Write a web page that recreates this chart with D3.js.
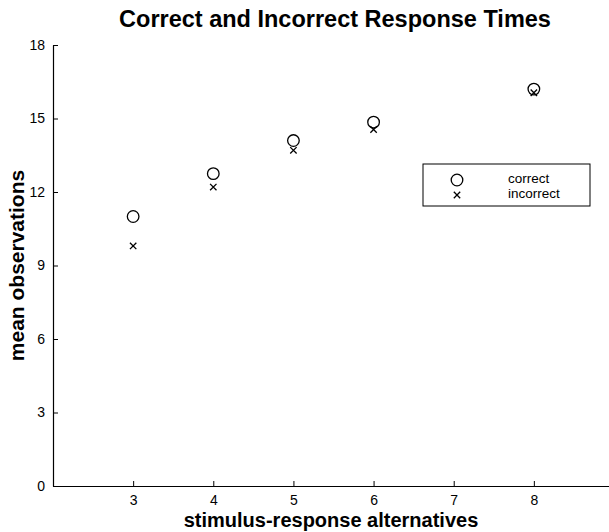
<!DOCTYPE html>
<html>
<head>
<meta charset="utf-8">
<script src="https://cdn.jsdelivr.net/npm/d3@7"></script>
<style>
  body { margin: 0; background: #fff; }
  text { font-family: Arial, "Liberation Sans", Helvetica, sans-serif; fill: #000; }
</style>
</head>
<body>
<div id="chart"></div>
<script>
// data
const alternatives = [3, 4, 5, 6, 8];
const correctTimes = [11.0, 12.75, 14.1, 14.85, 16.2];
const incorrectTimes = [9.8, 12.2, 13.7, 14.55, 16.05];
const xTicks = [3, 4, 5, 6, 7, 8];
const yTicks = [0, 3, 6, 9, 12, 15, 18];
const legendLabels = ["correct", "incorrect"];

const width = 609, height = 532;
const margin = {top: 45, right: -5, bottom: 46, left: 53};

let svg = d3.select("#chart")
  .append("svg")
    .attr("width", width)
    .attr("height", height)
    .attr("style", "background-color: #ffffff");

let x = d3.scaleLinear()
  .domain([2, 9])
  .range([margin.left, width - margin.right]);

let y = d3.scaleLinear()
  .domain([0, 18])
  .range([height - margin.bottom, margin.top]);

// x axis, ticks pointing into the plot
let xAxis = svg.append("g")
  .attr("transform", "translate(0," + y(0) + ")")
  .call(d3.axisBottom(x).tickValues(xTicks).tickFormat(d3.format("d"))
    .tickSizeInner(-5).tickSizeOuter(0).tickPadding(9));

// y axis
let yAxis = svg.append("g")
  .attr("transform", "translate(" + x(2) + ",0)")
  .call(d3.axisLeft(y).tickValues(yTicks).tickFormat(d3.format("d"))
    .tickSizeInner(-5).tickSizeOuter(0).tickPadding(8));

svg.selectAll(".domain").attr("stroke", "#000").attr("stroke-width", 1.2);
svg.selectAll(".tick line").attr("stroke", "#000");
svg.selectAll(".tick text")
  .attr("font-size", "14px")
  .attr("font-family", "Arial, 'Liberation Sans', sans-serif");

// title + axis labels
svg.append("text")
  .text("Correct and Incorrect Response Times")
  .attr("x", 335)
  .attr("y", 27)
  .attr("font-size", "23.5px")
  .attr("font-weight", "bold")
  .attr("text-anchor", "middle");

svg.append("text")
  .text("stimulus-response alternatives")
  .attr("x", 331)
  .attr("y", 527)
  .attr("font-size", "20px")
  .attr("font-weight", "bold")
  .attr("text-anchor", "middle");

svg.append("text")
  .text("mean observations")
  .attr("x", 0)
  .attr("y", 0)
  .attr("transform", "translate(24," + y(9) + ") rotate(-90)")
  .attr("font-size", "21px")
  .attr("font-weight", "bold")
  .attr("text-anchor", "middle");

// markers
function crossPath(cx, cy, s) {
  return "M" + (cx - s) + "," + (cy - s) + "L" + (cx + s) + "," + (cy + s) +
         "M" + (cx - s) + "," + (cy + s) + "L" + (cx + s) + "," + (cy - s);
}

svg.selectAll("circle.correct")
  .data(correctTimes)
  .enter()
  .append("circle")
    .attr("class", "correct")
    .attr("cx", function(d, i) { return x(alternatives[i]); })
    .attr("cy", function(d) { return y(d); })
    .attr("r", 5.8)
    .attr("fill", "none")
    .attr("stroke", "#000")
    .attr("stroke-width", 1.3);

svg.selectAll("path.incorrect")
  .data(incorrectTimes)
  .enter()
  .append("path")
    .attr("class", "incorrect")
    .attr("d", function(d, i) { return crossPath(x(alternatives[i]), y(d), 3.2); })
    .attr("stroke", "#000")
    .attr("stroke-width", 1.3);

// legend
let legend = svg.append("g").attr("transform", "translate(423,164)");
legend.append("rect")
  .attr("width", 167)
  .attr("height", 42)
  .attr("fill", "#fff")
  .attr("stroke", "#000")
  .attr("stroke-width", 1);
legend.append("circle")
  .attr("cx", 34).attr("cy", 16).attr("r", 5.8)
  .attr("fill", "none").attr("stroke", "#000").attr("stroke-width", 1.3);
legend.append("path")
  .attr("d", crossPath(34, 31, 3.2))
  .attr("stroke", "#000").attr("stroke-width", 1.3);
legend.selectAll("text")
  .data(legendLabels)
  .enter()
  .append("text")
    .text(function(d) { return d; })
    .attr("x", 85)
    .attr("y", function(d, i) { return 19 + i * 15; })
    .attr("font-size", "13.5px");
</script>
</body>
</html>
